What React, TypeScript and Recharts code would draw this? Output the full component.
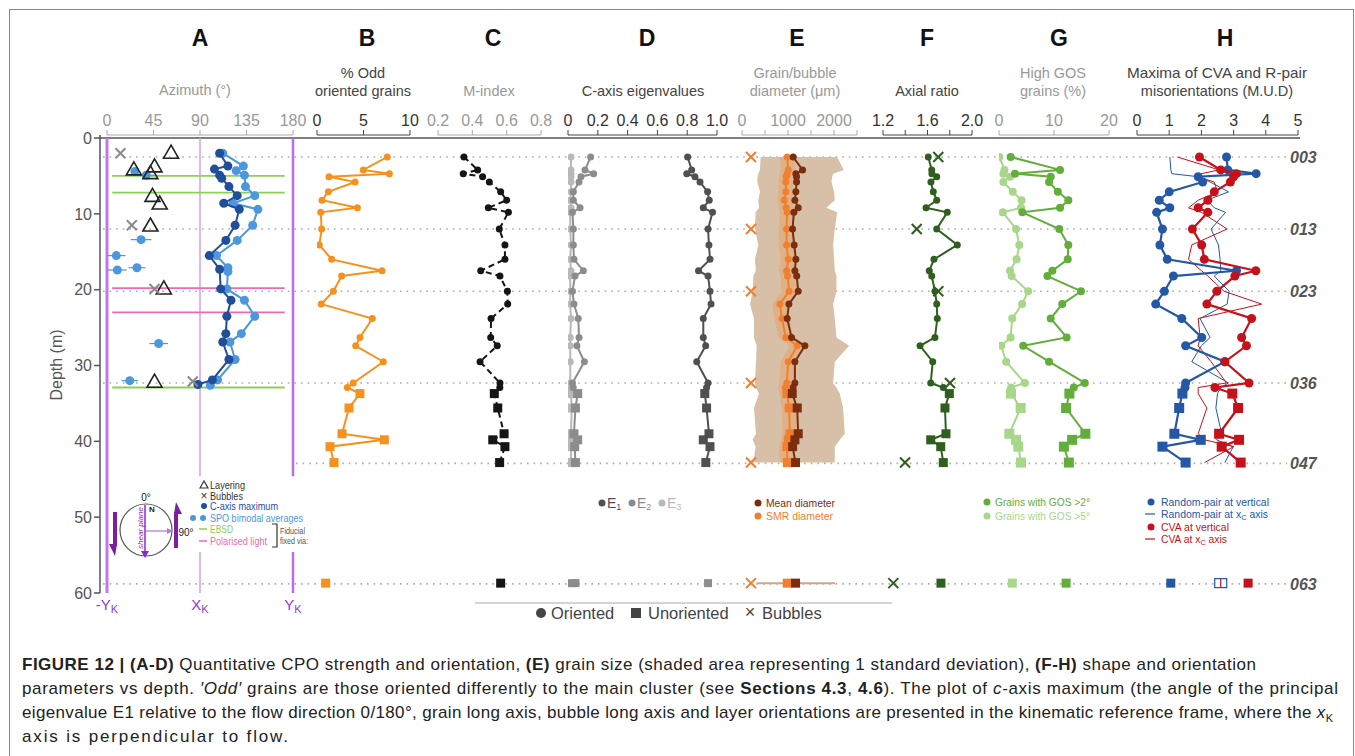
import React from 'react';
import { ScatterChart, Scatter, XAxis, YAxis, ReferenceLine, ErrorBar } from 'recharts';

const W = 1355;
const H = 756;
const PLOT_TOP = 135;
const PLOT_BOTTOM = 593;
const AXIS_H = 30;
const DEPTH_DOMAIN: [number, number] = [-0.4, 60];
const FONT = '"Liberation Sans", Arial, Helvetica, sans-serif';

// ---- sample depths (m) ----
const depthsOriented = [2.5, 4.2, 4.7, 5.1, 5.8, 7.1, 8.2, 9.2, 9.8, 12.0, 14.1, 16.0, 17.5, 18.2, 20.2, 21.9, 23.8, 26.3, 27.4, 29.5, 32.3, 32.9];
const depthsUnoriented = [33.7, 35.6, 39.0, 39.8, 40.7, 42.8];
const depthBottom = 58.7;
const bubbleDepths = [2.5, 12.0, 20.2, 32.3, 42.8, 58.7];
const sampleLabels = ['003', '013', '023', '036', '047', '063'];
const sampleDepths = [2.5, 12.0, 20.2, 32.3, 42.9, 58.8];
const depthTicks = [0, 10, 20, 30, 40, 50, 60];

// ---- A: azimuth (°) ----
const cAxisDepths = [2.0, 3.7, 4.1, 4.9, 5.3, 6.4, 7.6, 8.6, 9.4, 11.5, 13.5, 15.5, 17.3, 19.9, 21.4, 23.5, 25.8, 26.9, 29.2, 31.9, 32.5];
const cAxisAz = [109, 117, 104, 109, 111, 118, 126, 113, 128, 124, 115, 99, 109, 110, 120, 116, 115, 112, 118, 102, 88];
const spoDepths = [2.0, 3.7, 4.3, 4.9, 6.4, 7.6, 8.6, 9.4, 11.5, 13.5, 15.5, 17.1, 17.6, 19.9, 21.4, 23.5, 25.8, 26.9, 29.2, 31.9, 32.6];
const spoAz = [112, 132, 125, 133, 134, 143, 122, 146, 141, 126, 106, 117, 117, 116, 133, 143, 130, 119, 124, 107, 100];
const spo2Depths = [4.4, 4.9, 13.4, 15.5, 17.1, 17.4, 27.1, 32.0];
const spo2Az = [27, 38, 33, 9, 29, 10, 50, 22];
const spo2Err = [0, 8, 10, 9, 8, 9, 9, 8];
const layerDepths = [2.0, 3.8, 4.2, 4.7, 7.7, 8.7, 11.6, 19.9, 32.2];
const layerAz = [62, 46, 26, 42, 44, 51, 42, 55, 46];
const bubbleADepths = [2.0, 11.5, 19.9, 32.1];
const bubbleAAz = [13, 24, 46, 83];
const ebsdDepths = [5.0, 7.2, 32.9];
const polarisedDepths = [19.8, 23.0];

// ---- B: % odd oriented grains ----
const oddO = [7.56, 4.98, 7.78, 1.29, 4.09, 1.22, 0.54, 4.34, 0.4, 0.5, 0.25, 1.58, 6.99, 2.65, 1.76, 0.46, 5.95, 4.62, 4.16, 7.13, 3.9, 3.26];
const oddU = [4.62, 3.44, 2.69, 7.24, 1.4, 1.83];
const oddBottom = 0.93;

// ---- C: M-index ----
const mIndexO = [0.351, 0.431, 0.347, 0.46, 0.499, 0.565, 0.6, 0.493, 0.61, 0.557, 0.59, 0.59, 0.449, 0.561, 0.604, 0.606, 0.509, 0.507, 0.545, 0.445, 0.561, 0.56];
const mIndexU = [0.528, 0.548, 0.585, 0.519, 0.59, 0.559];
const mIndexBottom = 0.565;

// ---- D: eigenvalues ----
const e1O = [0.803, 0.83, 0.797, 0.852, 0.886, 0.937, 0.948, 0.908, 0.97, 0.94, 0.946, 0.953, 0.876, 0.94, 0.953, 0.96, 0.908, 0.908, 0.924, 0.864, 0.94, 0.93];
const e1U = [0.918, 0.93, 0.946, 0.908, 0.953, 0.925];
const e2O = [0.152, 0.114, 0.172, 0.087, 0.074, 0.036, 0.036, 0.081, 0.03, 0.036, 0.036, 0.04, 0.103, 0.047, 0.03, 0.04, 0.069, 0.074, 0.06, 0.11, 0.03, 0.035];
const e2U = [0.065, 0.05, 0.04, 0.065, 0.045, 0.05];
const e3O = [0.02, 0.02, 0.02, 0.02, 0.02, 0.02, 0.015, 0.02, 0.015, 0.015, 0.02, 0.015, 0.02, 0.015, 0.015, 0.015, 0.02, 0.015, 0.015, 0.015, 0.015, 0.02];
const e3U = [0.02, 0.025, 0.02, 0.025, 0.02, 0.02];
const eBottom = [0.94, 0.05, 0.025];

// ---- E: grain / bubble diameter (µm) ----
const meanO = [1113, 1316, 1171, 1186, 1186, 1171, 1150, 1222, 1128, 1099, 1135, 1171, 1150, 1190, 1222, 1020, 983, 1077, 1367, 1150, 1150, 1110];
const meanU = [1092, 1200, 1222, 1150, 1100, 1164];
const smrO = [983, 1005, 983, 960, 954, 954, 918, 960, 983, 969, 969, 1005, 969, 990, 1026, 824, 868, 954, 1200, 1004, 976, 940];
const smrU = [976, 1026, 1041, 1005, 976, 983];
const diamLow = [405, 390, 354, 340, 333, 390, 354, 370, 296, 282, 354, 282, 300, 246, 231, 174, 260, 260, 318, 304, 282, 300, 369, 260, 304, 231, 296, 246];
const diamHigh = [2068, 2213, 1982, 1960, 1945, 2003, 2017, 1837, 2068, 2017, 1982, 2003, 2017, 2054, 2054, 1982, 2017, 2054, 2328, 2017, 1982, 2050, 2126, 2198, 2234, 2126, 2017, 2017];
const smrLow = [820, 840, 820, 800, 790, 790, 760, 800, 820, 800, 800, 840, 800, 830, 860, 660, 700, 790, 1030, 840, 810, 780, 810, 860, 880, 840, 810, 820];
const smrHigh = [1150, 1170, 1150, 1120, 1120, 1120, 1080, 1120, 1150, 1130, 1130, 1170, 1130, 1150, 1190, 990, 1030, 1120, 1370, 1170, 1140, 1100, 1140, 1190, 1210, 1170, 1140, 1150];
const diamBottom = [1164, 983];
const diamBottomRange = [320, 2020];
const bubbleDiam = [195, 195, 195, 195, 195, 195];

// ---- F: axial ratio ----
const axialO = [1.607, 1.638, 1.64, 1.683, 1.631, 1.652, 1.683, 1.587, 1.778, 1.683, 1.868, 1.658, 1.616, 1.638, 1.667, 1.683, 1.688, 1.667, 1.533, 1.647, 1.629, 1.742];
const axialU = [1.796, 1.757, 1.766, 1.629, 1.719, 1.742];
const axialBottom = 1.721;
const axialBubbles = [1.697, 1.503, 1.697, 1.802, 1.398, 1.293];

// ---- G: high GOS grains (%) ----
const gos2O = [2.12, 11.1, 2.9, 9.4, 9.1, 10.7, 12.6, 11.1, 4.24, 10.97, 12.6, 12.5, 9.7, 8.8, 14.9, 11.5, 9.4, 12.3, 4.4, 9.1, 15.6, 13.6];
const gos2U = [12.8, 12.2, 15.7, 13.3, 11.8, 12.7];
const gos5O = [0.06, 1.0, 0.8, 2.0, 0.8, 2.5, 4.1, 4.0, 0.7, 3.1, 3.7, 3.2, 2.0, 2.3, 5.3, 4.2, 2.4, 2.1, 0.4, 1.3, 4.7, 2.2];
const gos5U = [2.18, 3.94, 1.88, 3.09, 3.5, 4.0];
const gosBottom = [12.2, 2.42];

// ---- H: misorientation maxima (M.U.D) ----
const rpVertO = [2.78, 2.82, 3.7, 1.9, 2.04, 1.0, 0.69, 1.02, 0.61, 0.79, 0.71, 0.94, 3.09, 1.13, 0.85, 0.58, 1.39, 2.01, 1.51, 2.73, 1.51, 1.49];
const rpVertU = [1.41, 1.31, 1.16, 1.98, 0.79, 1.51];
const cvaVertO = [1.94, 2.6, 3.09, 3.0, 2.9, 2.4, 2.2, 1.9, 2.2, 1.72, 2.01, 2.09, 3.69, 3.04, 2.48, 2.17, 3.56, 3.25, 3.4, 2.73, 3.48, 2.42];
const cvaVertU = [2.96, 3.14, 2.55, 3.17, 2.63, 3.22];
const rpXcO = [1.02, 1.05, 1.08, 1.9, 2.27, 2.84, 2.17, 2.4, 2.75, 2.3, 2.53, 2.58, 2.6, 2.4, 2.86, 2.8, 1.96, 2.27, 2.0, 1.7, 2.84, 2.6];
const rpXcU = [2.5, 2.45, 2.63, 2.47, 2.99, 2.73];
const cvaXcO = [1.25, 2.55, 2.0, 1.9, 2.4, 2.5, 1.9, 1.6, 2.0, 2.8, 1.7, 1.6, 2.0, 2.2, 2.7, 3.87, 1.9, 1.96, 1.9, 2.3, 2.78, 1.9];
const cvaXcU = [1.9, 2.17, 1.9, 2.1, 3.0, 2.1];
const hBottom = [1.05, 2.6, 3.45];

// ---------- helpers ----------
type Pt = { depth: number; v: number; kind: string; err?: number };
const series = (depths: number[], vals: number[], kind = 'o'): Pt[] =>
  depths.map((d, i) => ({ depth: d, v: vals[i], kind }));
const profile = (o: number[], u: number[]): Pt[] => [
  ...series(depthsOriented, o, 'o'),
  ...series(depthsUnoriented, u, 'u'),
];
const allDepths = [...depthsOriented, ...depthsUnoriented];
const band = (low: number[], high: number[]): Pt[] => [
  ...series(allDepths, low),
  ...series([...allDepths].reverse(), [...high].reverse()),
];

const C = {
  orange: '#f5921e',
  black: '#151515',
  e1: '#505050',
  e2: '#8c8c8c',
  e3: '#b8b8b8',
  brown: '#7a2e0e',
  smr: '#f08030',
  tan: '#d8c0a8',
  fGreen: '#2f5f1f',
  gos2: '#62ae3a',
  gos5: '#a8d68a',
  blue: '#2457a6',
  red: '#c5111a',
  darkBlue: '#1f4e9a',
  lightBlue: '#4d97dc',
  purple: '#9a35d6',
  ebsd: '#8ccf5a',
  pink: '#f06ab0',
};

const marker = (color: string, r = 4, sq = 4.5) => (p: any) => {
  const { cx, cy, payload } = p;
  if (cx == null || cy == null) return <g />;
  if (payload && payload.kind === 'u')
    return <rect x={cx - sq} y={cy - sq} width={sq * 2} height={sq * 2} fill={color} />;
  return <circle cx={cx} cy={cy} r={r} fill={color} />;
};
const openSquare = (p: any) => (
  <g>
    <rect x={p.cx - 6} y={p.cy - 4.5} width={12} height={9} fill="#fff" stroke={C.blue} strokeWidth={1.2} />
    <line x1={p.cx} y1={p.cy - 4.5} x2={p.cx} y2={p.cy + 4.5} stroke={C.red} strokeWidth={1.2} />
  </g>
);
const cross = (color: string, s = 5, w = 2) => (p: any) => (
  <g stroke={color} strokeWidth={w}>
    <line x1={p.cx - s} y1={p.cy - s} x2={p.cx + s} y2={p.cy + s} />
    <line x1={p.cx - s} y1={p.cy + s} x2={p.cx + s} y2={p.cy - s} />
  </g>
);
const triangle = (p: any) => (
  <path d={`M${p.cx},${p.cy - 8} L${p.cx + 7.5},${p.cy + 5} L${p.cx - 7.5},${p.cy + 5} Z`} fill="none" stroke="#222" strokeWidth={1.6} />
);
const none = () => <g />;

interface PanelProps {
  x0: number;
  x1: number;
  domain: [number, number];
  ticks: number[];
  fmt?: (v: number) => string;
  axisColor: string;
  tickColor: string;
  children?: React.ReactNode;
}

const Panel: React.FC<PanelProps> = ({ x0, x1, domain, ticks, fmt, axisColor, tickColor, children }) => (
  <div style={{ position: 'absolute', left: 0, top: 0 }}>
    <ScatterChart
      width={W}
      height={H}
      margin={{ top: PLOT_TOP - AXIS_H, bottom: H - PLOT_BOTTOM, left: x0, right: W - x1 }}
    >
      <XAxis
        type="number"
        dataKey="v"
        orientation="top"
        domain={domain}
        ticks={ticks}
        interval={0}
        allowDataOverflow
        height={AXIS_H}
        tickFormatter={fmt}
        stroke={axisColor}
        tick={{ fill: tickColor, fontSize: 16, fontFamily: FONT }}
        tickSize={5}
        tickMargin={4}
      />
      <YAxis type="number" dataKey="depth" domain={DEPTH_DOMAIN} reversed hide allowDataOverflow />
      {children}
    </ScatterChart>
  </div>
);

const Frame: React.FC = () => (
  <div style={{ position: 'absolute', left: 0, top: 0 }}>
    <ScatterChart width={W} height={H} margin={{ top: PLOT_TOP, bottom: H - PLOT_BOTTOM, left: 60, right: W - 1300 }}>
      <XAxis type="number" dataKey="x" domain={[100, 1300]} hide allowDataOverflow />
      <YAxis
        type="number"
        dataKey="depth"
        domain={DEPTH_DOMAIN}
        reversed
        allowDataOverflow
        ticks={depthTicks}
        interval={0}
        width={40}
        stroke="#555"
        strokeWidth={1.5}
        tickSize={6}
        tick={{ fill: '#555', fontSize: 16, fontFamily: FONT }}
      />
      {sampleLabels.map((lab, i) => (
        <ReferenceLine
          key={lab}
          segment={[
            { x: lab === '047' ? 296 : 103, y: sampleDepths[i] },
            { x: 1287, y: sampleDepths[i] },
          ]}
          stroke="#aaa"
          strokeWidth={1.6}
          strokeDasharray="1.6 5"
          label={{ value: lab, position: 'right', offset: 3, fill: '#555', fontSize: 16, fontWeight: 700, fontStyle: 'italic', fontFamily: FONT }}
        />
      ))}
      <ReferenceLine y={0} stroke="#555" strokeWidth={1.5} />
    </ScatterChart>
  </div>
);

const T: React.FC<{ x: number; y: number; c?: string; s?: number; a?: 'start' | 'middle' | 'end'; b?: boolean; w?: number; children?: React.ReactNode }> = ({
  x, y, c = '#444', s = 14, a = 'middle', b = false, w, children,
}) => (
  <text
    x={x}
    y={y}
    fill={c}
    fontSize={s}
    textAnchor={a}
    dominantBaseline="central"
    fontWeight={b ? 700 : 400}
    fontFamily={FONT}
    textLength={w}
    lengthAdjust={w ? 'spacingAndGlyphs' : undefined}
  >
    {children}
  </text>
);

const Overlay: React.FC = () => (
  <svg width={W} height={H} style={{ position: 'absolute', left: 0, top: 0, pointerEvents: 'none' }}>
    {/* panel letters */}
    {[['A', 200], ['B', 367], ['C', 493], ['D', 647], ['E', 797], ['F', 927], ['G', 1059], ['H', 1225]].map(([l, x]) => (
      <T key={l as string} x={x as number} y={38} c="#111" s={23} b>{l}</T>
    ))}
    {/* axis titles */}
    <T x={195} y={90} c="#999" s={14.5}>Azimuth (°)</T>
    <T x={363} y={73} c="#444" s={14.5}>% Odd</T>
    <T x={363} y={91} c="#444" s={14.5}>oriented grains</T>
    <T x={489} y={91} c="#999" s={14.5}>M-index</T>
    <T x={643} y={91} c="#444" s={14.5}>C-axis eigenvalues</T>
    <T x={795} y={73} c="#999" s={14.5}>Grain/bubble</T>
    <T x={795} y={91} c="#999" s={14.5}>diameter (μm)</T>
    <T x={927} y={91} c="#444" s={14.5}>Axial ratio</T>
    <T x={1053} y={73} c="#999" s={14.5}>High GOS</T>
    <T x={1053} y={91} c="#999" s={14.5}>grains (%)</T>
    <T x={1217} y={73} c="#444" s={14.5} w={180}>Maxima of CVA and R-pair</T>
    <T x={1217} y={91} c="#444" s={14.5}>misorientations (M.U.D)</T>

    {/* depth axis title */}
    <text transform="translate(56,365) rotate(-90)" fill="#555" fontSize={16} textAnchor="middle" dominantBaseline="central" fontFamily={FONT}>Depth (m)</text>

    {/* kinematic frame labels */}
    {[['-Y', 107], ['X', 200], ['Y', 293]].map(([l, x]) => (
      <text key={l as string} x={x as number} y={610} fill={C.purple} fontSize={15} textAnchor="middle" fontFamily={FONT}>
        {l}<tspan fontSize={11} dy={3}>K</tspan>
      </text>
    ))}

    {/* compass */}
    <circle cx={146} cy={530} r={26} fill="none" stroke="#555" strokeWidth={1.2} />
    <T x={146} y={497} c="#222" s={10}>0°</T>
    <T x={152} y={509} c="#222" s={8} b>N</T>
    <line x1={145} y1={505} x2={145} y2={552} stroke="#8a2bc8" strokeWidth={1.5} />
    <polygon points="141,551 149,551 145,558" fill="#8a2bc8" />
    <line x1={146} y1={531} x2={168} y2={531} stroke="#b47ae0" strokeWidth={1.3} />
    <polygon points="167,528 167,534 173,531" fill="#b47ae0" />
    <T x={186} y={532} c="#222" s={10}>90°</T>
    <text transform="translate(140,528) rotate(-90)" fill="#8a2bc8" fontSize={8} fontStyle="italic" textAnchor="middle" dominantBaseline="central" fontFamily={FONT}>shear plane</text>
    <line x1={115} y1={512} x2={115} y2={546} stroke="#7a1fa2" strokeWidth={4} />
    <polygon points="109,544 117,544 115,556" fill="#7a1fa2" />
    <line x1={176} y1={548} x2={176} y2={512} stroke="#7a1fa2" strokeWidth={4} />
    <polygon points="174,514 182,514 176,502" fill="#7a1fa2" />

    {/* A legend */}
    <path d="M200,488 L204,481 L208,488 Z" fill="none" stroke="#333" strokeWidth={1.2} />
    <T x={210} y={485} a="start" s={10.5} c="#333" w={35}>Layering</T>
    <T x={204} y={496} s={12} c="#333">×</T>
    <T x={210} y={496} a="start" s={10.5} c="#333" w={33}>Bubbles</T>
    <circle cx={204} cy={506} r={3} fill={C.darkBlue} />
    <T x={210} y={506} a="start" s={10.5} c={C.darkBlue} w={68}>C-axis maximum</T>
    <circle cx={193} cy={518} r={3} fill={C.lightBlue} />
    <circle cx={203} cy={518} r={3} fill={C.lightBlue} />
    <T x={210} y={518} a="start" s={10.5} c={C.lightBlue} w={93}>SPO bimodal averages</T>
    <line x1={199} y1={529} x2={207} y2={529} stroke={C.ebsd} strokeWidth={1.5} />
    <T x={210} y={529} a="start" s={10.5} c={C.ebsd} w={23}>EBSD</T>
    <line x1={199} y1={541} x2={207} y2={541} stroke={C.pink} strokeWidth={1.5} />
    <T x={210} y={541} a="start" s={10.5} c={C.pink} w={57}>Polarised light</T>
    <path d="M272,524 L277,524 L277,547 L272,547" fill="none" stroke="#333" strokeWidth={1.2} />
    <T x={280} y={531} a="start" s={8.5} c="#555" w={25}>Fiducial</T>
    <T x={280} y={541} a="start" s={8.5} c="#555" w={28}>fixed via:</T>

    {/* D legend */}
    <circle cx={602} cy={503} r={3.5} fill={C.e1} />
    <text x={607} y={508} fill={C.e1} fontSize={14} fontFamily={FONT}>E<tspan fontSize={9} dy={2}>1</tspan></text>
    <circle cx={632} cy={503} r={3.5} fill={C.e2} />
    <text x={637} y={508} fill={C.e2} fontSize={14} fontFamily={FONT}>E<tspan fontSize={9} dy={2}>2</tspan></text>
    <circle cx={662} cy={503} r={3.5} fill={C.e3} />
    <text x={667} y={508} fill={C.e3} fontSize={14} fontFamily={FONT}>E<tspan fontSize={9} dy={2}>3</tspan></text>

    {/* E legend */}
    <circle cx={758} cy={503} r={3.5} fill={C.brown} />
    <T x={766} y={503} a="start" s={11} c={C.brown} w={69}>Mean diameter</T>
    <circle cx={758} cy={516} r={3.5} fill={C.smr} />
    <T x={766} y={516} a="start" s={11} c={C.smr} w={67}>SMR diameter</T>

    {/* G legend */}
    <circle cx={987} cy={502} r={3.5} fill={C.gos2} />
    <T x={995} y={502} a="start" s={11} c={C.gos2} w={95}>Grains with GOS &gt;2°</T>
    <circle cx={987} cy={516} r={3.5} fill={C.gos5} />
    <T x={995} y={516} a="start" s={11} c={C.gos5} w={95}>Grains with GOS &gt;5°</T>

    {/* H legend */}
    <circle cx={1151} cy={502} r={3.5} fill={C.blue} />
    <T x={1161} y={502} a="start" s={10.5} c={C.blue} w={108}>Random-pair at vertical</T>
    <line x1={1145} y1={514} x2={1155} y2={514} stroke={C.blue} strokeWidth={1.2} />
    <text x={1161} y={518} fill={C.blue} fontSize={10.5} fontFamily={FONT} textLength={107} lengthAdjust="spacingAndGlyphs">Random-pair at x<tspan fontSize={7.5} dy={2}>C</tspan><tspan dy={-2}> axis</tspan></text>
    <circle cx={1151} cy={527} r={3.5} fill={C.red} />
    <T x={1161} y={527} a="start" s={10.5} c={C.red} w={68}>CVA at vertical</T>
    <line x1={1145} y1={539} x2={1155} y2={539} stroke={C.red} strokeWidth={1.2} />
    <text x={1161} y={543} fill={C.red} fontSize={10.5} fontFamily={FONT} textLength={66} lengthAdjust="spacingAndGlyphs">CVA at x<tspan fontSize={7.5} dy={2}>C</tspan><tspan dy={-2}> axis</tspan></text>

    {/* bottom legend */}
    <line x1={475} y1={603} x2={892} y2={603} stroke="#aaa" strokeWidth={1.2} />
    <circle cx={541} cy={613} r={5} fill="#444" />
    <T x={551} y={613} a="start" s={16.5} c="#444">Oriented</T>
    <rect x={631} y={608} width={10} height={10} fill="#444" />
    <T x={648} y={613} a="start" s={16.5} c="#444">Unoriented</T>
    <T x={750} y={612} s={18} c="#444">×</T>
    <T x={762} y={613} a="start" s={16.5} c="#444">Bubbles</T>

    {/* caption */}
    <g fontFamily={FONT} fontSize={17} fill="#222">
      <text x={22} y={670} textLength={1234} lengthAdjust="spacing">
        <tspan fontWeight={700}>FIGURE 12 | (A-D)</tspan> Quantitative CPO strength and orientation, <tspan fontWeight={700}>(E)</tspan> grain size (shaded area representing 1 standard deviation), <tspan fontWeight={700}>(F-H)</tspan> shape and orientation
      </text>
      <text x={22} y={694} textLength={1316} lengthAdjust="spacing">
        parameters vs depth. <tspan fontStyle="italic">′Odd′</tspan> grains are those oriented differently to the main cluster (see <tspan fontWeight={700}>Sections 4.3</tspan>, <tspan fontWeight={700}>4.6</tspan>). The plot of <tspan fontStyle="italic">c</tspan>-axis maximum (the angle of the principal
      </text>
      <text x={22} y={718} textLength={1311} lengthAdjust="spacing">
        eigenvalue E1 relative to the flow direction 0/180°, grain long axis, bubble long axis and layer orientations are presented in the kinematic reference frame, where the <tspan fontStyle="italic">x</tspan><tspan fontSize={11} dy={4}>K</tspan>
      </text>
      <text x={22} y={742} textLength={266} lengthAdjust="spacing">axis is perpendicular to flow.</text>
    </g>
  </svg>
);

export default function App() {
  const spo2 = spo2Depths.map((d, i) => ({ depth: d, v: spo2Az[i], kind: 'o', err: spo2Err[i] }));
  return (
    <div style={{ position: 'absolute', left: 0, top: 0, width: W, height: H, background: '#fff', overflow: 'hidden', fontFamily: FONT }}>
      <div style={{ position: 'absolute', left: 9, top: 9, width: 1343, height: 800, border: '1px solid #888' }} />
      <Frame />

      {/* A */}
      <Panel x0={107} x1={293} domain={[0, 180]} ticks={[0, 45, 90, 135, 180]} axisColor="#aaa" tickColor="#999">
        <ReferenceLine segment={[{ x: 0, y: 0 }, { x: 0, y: 60 }]} stroke="#c07ae8" strokeWidth={3} />
        <ReferenceLine segment={[{ x: 90, y: 0 }, { x: 90, y: 44.6 }]} stroke="#d3a6f0" strokeWidth={1.6} />
        <ReferenceLine segment={[{ x: 90, y: 54.6 }, { x: 90, y: 60 }]} stroke="#d3a6f0" strokeWidth={1.6} />
        <ReferenceLine segment={[{ x: 180, y: 0 }, { x: 180, y: 44.6 }]} stroke="#b86ee6" strokeWidth={2.5} />
        <ReferenceLine segment={[{ x: 180, y: 54.6 }, { x: 180, y: 60 }]} stroke="#b86ee6" strokeWidth={2.5} />
        {ebsdDepths.map((d) => (
          <ReferenceLine key={'g' + d} segment={[{ x: 5, y: d }, { x: 172, y: d }]} stroke={C.ebsd} strokeWidth={1.8} />
        ))}
        {polarisedDepths.map((d) => (
          <ReferenceLine key={'p' + d} segment={[{ x: 5, y: d }, { x: 172, y: d }]} stroke={C.pink} strokeWidth={1.8} />
        ))}
        <Scatter data={spo2} shape={marker(C.lightBlue, 4.5)} isAnimationActive={false}>
          <ErrorBar dataKey="err" direction="x" width={0} stroke={C.lightBlue} strokeWidth={1.2} />
        </Scatter>
        <Scatter data={series(spoDepths, spoAz)} line={{ stroke: C.lightBlue, strokeWidth: 2 }} shape={marker(C.lightBlue, 4.5)} isAnimationActive={false} />
        <Scatter data={series(cAxisDepths, cAxisAz)} line={{ stroke: C.darkBlue, strokeWidth: 2 }} shape={marker(C.darkBlue, 4.5)} isAnimationActive={false} />
        <Scatter data={series(layerDepths, layerAz)} shape={triangle} isAnimationActive={false} />
        <Scatter data={series(bubbleADepths, bubbleAAz)} shape={cross('#8a8a8a', 5, 2)} isAnimationActive={false} />
      </Panel>

      {/* B */}
      <Panel x0={317} x1={410} domain={[0, 10]} ticks={[0, 5, 10]} axisColor="#444" tickColor="#333">
        <Scatter data={profile(oddO, oddU)} line={{ stroke: C.orange, strokeWidth: 2 }} shape={marker(C.orange, 3.5, 4.5)} isAnimationActive={false} />
        <Scatter data={series([depthBottom], [oddBottom], 'u')} shape={marker(C.orange, 3.5, 4.5)} isAnimationActive={false} />
      </Panel>

      {/* C */}
      <Panel x0={438} x1={541} domain={[0.2, 0.8]} ticks={[0.2, 0.4, 0.6, 0.8]} fmt={(v) => v.toFixed(1)} axisColor="#aaa" tickColor="#999">
        <Scatter data={profile(mIndexO, mIndexU)} line={{ stroke: C.black, strokeWidth: 2, strokeDasharray: '6 4' }} shape={marker(C.black, 3.5, 4.5)} isAnimationActive={false} />
        <Scatter data={series([depthBottom], [mIndexBottom], 'u')} shape={marker(C.black, 3.5, 4.5)} isAnimationActive={false} />
      </Panel>

      {/* D */}
      <Panel x0={568} x1={717} domain={[0, 1]} ticks={[0, 0.2, 0.4, 0.6, 0.8, 1]} fmt={(v) => (v === 0 ? '0' : v.toFixed(1))} axisColor="#444" tickColor="#333">
        <Scatter data={profile(e3O, e3U)} line={{ stroke: C.e3, strokeWidth: 2 }} shape={marker(C.e3, 3.5, 4.5)} isAnimationActive={false} />
        <Scatter data={profile(e2O, e2U)} line={{ stroke: C.e2, strokeWidth: 2 }} shape={marker(C.e2, 3.5, 4.5)} isAnimationActive={false} />
        <Scatter data={profile(e1O, e1U)} line={{ stroke: C.e1, strokeWidth: 2 }} shape={marker(C.e1, 3.5, 4.5)} isAnimationActive={false} />
        <Scatter data={series([depthBottom, depthBottom, depthBottom], eBottom, 'u')} shape={marker(C.e2, 3.5, 4)} isAnimationActive={false} />
      </Panel>

      {/* E */}
      <Panel x0={742} x1={857} domain={[0, 2500]} ticks={[0, 500, 1000, 1500, 2000, 2500]} fmt={(v) => (v % 1000 === 0 ? String(v) : '')} axisColor="#aaa" tickColor="#999">
        <Scatter data={band(diamLow, diamHigh)} line={{ stroke: 'none', fill: C.tan }} shape={none} isAnimationActive={false} />
        <Scatter data={band(smrLow, smrHigh)} line={{ stroke: 'none', fill: '#eaa060', fillOpacity: 0.45 }} shape={none} isAnimationActive={false} />
        <Scatter data={series([depthBottom, depthBottom], diamBottomRange)} line={{ stroke: '#c9a88c', strokeWidth: 2 }} shape={none} isAnimationActive={false} />
        <Scatter data={profile(smrO, smrU)} line={{ stroke: C.smr, strokeWidth: 2 }} shape={marker(C.smr, 3.5, 4.5)} isAnimationActive={false} />
        <Scatter data={profile(meanO, meanU)} line={{ stroke: C.brown, strokeWidth: 2 }} shape={marker(C.brown, 3.5, 4.5)} isAnimationActive={false} />
        <Scatter data={series([depthBottom], [diamBottom[1]], 'u')} shape={marker(C.smr, 3.5, 4.5)} isAnimationActive={false} />
        <Scatter data={series([depthBottom], [diamBottom[0]], 'u')} shape={marker(C.brown, 3.5, 4.5)} isAnimationActive={false} />
        <Scatter data={series(bubbleDepths, bubbleDiam)} shape={cross(C.smr, 5, 2)} isAnimationActive={false} />
      </Panel>

      {/* F */}
      <Panel x0={883} x1={972} domain={[1.2, 2.0]} ticks={[1.2, 1.4, 1.6, 1.8, 2.0]} fmt={(v) => (Math.abs(v - 1.4) < 0.01 || Math.abs(v - 1.8) < 0.01 ? '' : v.toFixed(1))} axisColor="#444" tickColor="#333">
        <Scatter data={profile(axialO, axialU)} line={{ stroke: C.fGreen, strokeWidth: 2 }} shape={marker(C.fGreen, 3.5, 4.5)} isAnimationActive={false} />
        <Scatter data={series([depthBottom], [axialBottom], 'u')} shape={marker(C.fGreen, 3.5, 4.5)} isAnimationActive={false} />
        <Scatter data={series(bubbleDepths, axialBubbles)} shape={cross(C.fGreen, 5, 2)} isAnimationActive={false} />
      </Panel>

      {/* G */}
      <Panel x0={999} x1={1109} domain={[0, 20]} ticks={[0, 10, 20]} axisColor="#aaa" tickColor="#999">
        <Scatter data={profile(gos5O, gos5U)} line={{ stroke: C.gos5, strokeWidth: 2 }} shape={marker(C.gos5, 4, 5)} isAnimationActive={false} />
        <Scatter data={profile(gos2O, gos2U)} line={{ stroke: C.gos2, strokeWidth: 2 }} shape={marker(C.gos2, 4, 5)} isAnimationActive={false} />
        <Scatter data={series([depthBottom], [gosBottom[1]], 'u')} shape={marker(C.gos5, 4, 4.5)} isAnimationActive={false} />
        <Scatter data={series([depthBottom], [gosBottom[0]], 'u')} shape={marker(C.gos2, 4, 4.5)} isAnimationActive={false} />
      </Panel>

      {/* H */}
      <Panel x0={1137} x1={1298} domain={[0, 5]} ticks={[0, 1, 2, 3, 4, 5]} axisColor="#444" tickColor="#333">
        <Scatter data={profile(rpXcO, rpXcU)} line={{ stroke: C.blue, strokeWidth: 1 }} shape={none} isAnimationActive={false} />
        <Scatter data={profile(cvaXcO, cvaXcU)} line={{ stroke: C.red, strokeWidth: 1 }} shape={none} isAnimationActive={false} />
        <Scatter data={profile(rpVertO, rpVertU)} line={{ stroke: C.blue, strokeWidth: 2.2 }} shape={marker(C.blue, 4.5, 5)} isAnimationActive={false} />
        <Scatter data={profile(cvaVertO, cvaVertU)} line={{ stroke: C.red, strokeWidth: 2.2 }} shape={marker(C.red, 4.5, 5)} isAnimationActive={false} />
        <Scatter data={series([depthBottom], [hBottom[0]], 'u')} shape={marker(C.blue, 4.5, 4.5)} isAnimationActive={false} />
        <Scatter data={series([depthBottom], [hBottom[1]], 'u')} shape={openSquare} isAnimationActive={false} />
        <Scatter data={series([depthBottom], [hBottom[2]], 'u')} shape={marker(C.red, 4.5, 4.5)} isAnimationActive={false} />
      </Panel>

      <Overlay />
    </div>
  );
}
